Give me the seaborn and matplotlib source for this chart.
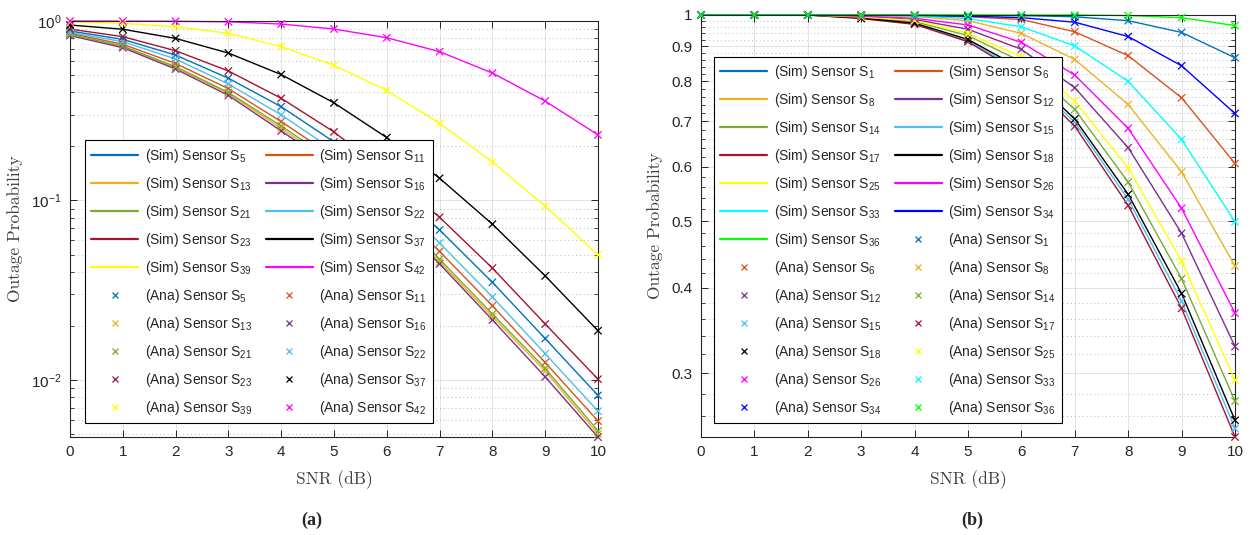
import numpy as np
import pandas as pd
import matplotlib
matplotlib.use("Agg")
import matplotlib.pyplot as plt
import seaborn as sns
from matplotlib.lines import Line2D
from matplotlib.ticker import FixedLocator, FixedFormatter, LogLocator, NullFormatter

# ---------------------------------------------------------------- data
snr_db = [0, 1, 2, 3, 4, 5, 6, 7, 8, 9, 10]

# panel (a): outage probability per sensor
sensors_a = [5, 11, 13, 16, 21, 22, 23, 37, 39, 42]
p_s5 = [0.88, 0.79, 0.646, 0.48, 0.333, 0.212, 0.124, 0.0685, 0.035, 0.017, 0.0082]
p_s11 = [0.854, 0.742, 0.58, 0.42, 0.275, 0.175, 0.10, 0.052, 0.0259, 0.0125, 0.0059]
p_s13 = [0.84, 0.72, 0.55, 0.395, 0.252, 0.16, 0.09, 0.0456, 0.0225, 0.0112, 0.0050]
p_s16 = [0.83, 0.71, 0.54, 0.385, 0.244, 0.155, 0.087, 0.0443, 0.0216, 0.0104, 0.0048]
p_s21 = [0.842, 0.725, 0.557, 0.40, 0.26, 0.165, 0.093, 0.0471, 0.0233, 0.0116, 0.0052]
p_s22 = [0.865, 0.767, 0.614, 0.446, 0.30, 0.19, 0.11, 0.058, 0.029, 0.014, 0.0067]
p_s23 = [0.902, 0.818, 0.683, 0.527, 0.371, 0.241, 0.142, 0.0806, 0.042, 0.0205, 0.0101]
p_s37 = [0.95, 0.90, 0.80, 0.663, 0.503, 0.35, 0.224, 0.133, 0.0738, 0.038, 0.0188]
p_s39 = [0.99, 0.97, 0.93, 0.854, 0.72, 0.566, 0.41, 0.269, 0.164, 0.093, 0.0497]
p_s42 = [1.0, 0.999, 0.997, 0.99, 0.962, 0.902, 0.807, 0.675, 0.513, 0.358, 0.232]
values_a = [p_s5, p_s11, p_s13, p_s16, p_s21, p_s22, p_s23, p_s37, p_s39, p_s42]

# panel (b)
sensors_b = [1, 6, 8, 12, 14, 15, 17, 18, 25, 26, 33, 34, 36]
p_s1 = [1, 1, 1, 1, 1, 0.999, 0.998, 0.994, 0.981, 0.943, 0.866]
p_s6 = [1, 1, 1, 1, 0.998, 0.994, 0.985, 0.945, 0.872, 0.757, 0.607]
p_s8 = [1, 1, 1, 0.998, 0.995, 0.981, 0.94, 0.861, 0.74, 0.59, 0.43]
p_s12 = [1, 1, 1, 0.995, 0.985, 0.953, 0.891, 0.783, 0.64, 0.48, 0.328]
p_s14 = [1, 1, 1, 0.992, 0.978, 0.933, 0.855, 0.728, 0.57, 0.412, 0.273]
p_s15 = [1, 1, 1, 0.989, 0.971, 0.917, 0.827, 0.697, 0.538, 0.382, 0.249]
p_s17 = [1, 1, 1, 0.988, 0.969, 0.914, 0.82, 0.688, 0.527, 0.373, 0.242]
p_s18 = [1, 1, 1, 0.99, 0.973, 0.921, 0.835, 0.705, 0.547, 0.392, 0.256]
p_s25 = [1, 1, 1, 0.993, 0.982, 0.94, 0.869, 0.749, 0.598, 0.437, 0.293]
p_s26 = [1, 1, 1, 0.996, 0.989, 0.967, 0.912, 0.817, 0.683, 0.522, 0.367]
p_s33 = [1, 1, 1, 0.999, 0.997, 0.988, 0.961, 0.901, 0.80, 0.658, 0.499]
p_s34 = [1, 1, 1, 1, 0.999, 0.996, 0.991, 0.976, 0.93, 0.843, 0.718]
p_s36 = [1, 1, 1, 1, 1, 1, 1, 1, 0.998, 0.991, 0.965]
values_b = [p_s1, p_s6, p_s8, p_s12, p_s14, p_s15, p_s17, p_s18,
            p_s25, p_s26, p_s33, p_s34, p_s36]

colors_a = ["#0072BD", "#D95319", "#EDB120", "#7E2F8E", "#77AC30",
            "#4DBEEE", "#A2142F", "#000000", "#FFFF00", "#FF00FF"]
colors_b = ["#0072BD", "#D95319", "#EDB120", "#7E2F8E", "#77AC30",
            "#4DBEEE", "#A2142F", "#000000", "#FFFF00", "#FF00FF",
            "#00FFFF", "#0000FF", "#00FF00"]

right_ticks_b = [0.3, 0.4, 0.5, 0.6, 0.7, 0.8, 0.9, 1.0]
right_tick_labels_b = ["0.3", "0.4", "0.5", "0.6", "0.7", "0.8", "0.9", "1"]

# ---------------------------------------------------------------- style
sns.set_style("ticks")
INK = "#262626"
plt.rcParams.update({
    "font.family": ["Liberation Sans", "DejaVu Sans"],
    "mathtext.fontset": "custom",
    "mathtext.rm": "Liberation Sans",
    "mathtext.it": "Liberation Sans:italic",
    "mathtext.bf": "Liberation Sans:bold",
    "axes.edgecolor": INK,
    "axes.linewidth": 0.8,
    "xtick.color": INK,
    "ytick.color": INK,
    "xtick.labelcolor": INK,
    "ytick.labelcolor": INK,
})

fig = plt.figure(figsize=(12.5, 5.35), dpi=100)
ax_a = fig.add_axes([0.056, 0.1832, 0.4224, 0.7775])
ax_b = fig.add_axes([0.5608, 0.1832, 0.4272, 0.7888])


def long_frame(sensors, values):
    rows = []
    for s, vals in zip(sensors, values):
        for x, v in zip(snr_db, vals):
            rows.append({"snr": x, "p": v, "sensor": f"S{s}"})
    return pd.DataFrame(rows)


def draw_panel(ax, sensors, values, colors):
    df = long_frame(sensors, values)
    order = [f"S{s}" for s in sensors]
    pal = dict(zip(order, colors))
    sns.lineplot(data=df, x="snr", y="p", hue="sensor", hue_order=order,
                 palette=pal, linewidth=1.0, legend=False, ax=ax)
    sns.scatterplot(data=df, x="snr", y="p", hue="sensor", hue_order=order,
                    palette=pal, marker="x", s=28, linewidth=0.9,
                    legend=False, ax=ax, zorder=3)
    for art in ax.lines + ax.collections:
        art.set_clip_on(False)

    sim = [Line2D([], [], color=c, lw=1.6) for c in colors]
    ana = [Line2D([], [], color=c, marker="x", ls="none", ms=5, mew=0.9)
           for c in colors]
    labels = ([f"(Sim) Sensor S$_{{{s}}}$" for s in sensors]
              + [f"(Ana) Sensor S$_{{{s}}}$" for s in sensors])
    handles = sim + ana
    # two columns filled row by row
    h = handles[0::2] + handles[1::2]
    l = labels[0::2] + labels[1::2]
    return h, l


def style_axes(ax):
    ax.set_xlim(0, 10)
    ax.xaxis.set_major_locator(FixedLocator(snr_db))
    ax.tick_params(which="both", direction="in", top=True, right=True,
                   labelsize=11, pad=6)
    ax.tick_params(which="major", length=5, width=0.7)
    ax.tick_params(which="minor", length=3, width=0.6)
    ax.tick_params(axis="x", which="minor", top=False, bottom=False)
    ax.grid(True, which="major", color=INK, alpha=0.15, lw=0.6, ls="-")
    ax.grid(True, which="minor", axis="y", color=INK, alpha=0.3, lw=0.7,
            ls=(0, (1, 3)))
    ax.set_axisbelow(True)
    for sp in ax.spines.values():
        sp.set_visible(True)
        sp.set_color(INK)
    ax.set_xlabel("SNR (dB)", fontfamily="cmr10", fontsize=12.5,
                  color="#404040", labelpad=8)
    ax.set_ylabel("Outage Probability", fontfamily="cmr10", fontsize=12.5,
                  color="#404040", labelpad=6)


legend_kw = dict(ncol=2, loc="lower left", borderaxespad=0, fontsize=10,
                 frameon=True, fancybox=False, edgecolor="#000000",
                 framealpha=1, handlelength=3.4, handletextpad=0.45,
                 columnspacing=1.0, labelspacing=0.72, borderpad=0.45)

# panel (a)
h_a, l_a = draw_panel(ax_a, sensors_a, values_a, colors_a)
ax_a.set_yscale("log")
ax_a.set_ylim(0.00481, 1.0)
ax_a.yaxis.set_major_locator(LogLocator(base=10, numticks=10))
ax_a.yaxis.set_minor_locator(LogLocator(base=10, subs=np.arange(2, 10), numticks=20))
ax_a.yaxis.set_minor_formatter(NullFormatter())
style_axes(ax_a)
leg_a = ax_a.legend(h_a, l_a, bbox_to_anchor=(0.028, 0.034), **legend_kw)
leg_a.get_frame().set_linewidth(0.8)

# panel (b)
h_b, l_b = draw_panel(ax_b, sensors_b, values_b, colors_b)
ax_b.set_yscale("log")
ax_b.set_ylim(0.242, 1.0)
ax_b.yaxis.set_major_locator(FixedLocator(right_ticks_b))
ax_b.yaxis.set_major_formatter(FixedFormatter(right_tick_labels_b))
minor_b = [v / 100 for v in range(24, 100, 2) if v % 10 != 0]
ax_b.yaxis.set_minor_locator(FixedLocator(minor_b))
ax_b.yaxis.set_minor_formatter(NullFormatter())
style_axes(ax_b)
leg_b = ax_b.legend(h_b, l_b, bbox_to_anchor=(0.024, 0.033), **legend_kw)
leg_b.get_frame().set_linewidth(0.8)

fig.text(0.2496, 0.028, "(a)", ha="center", va="center", fontsize=13,
         fontweight="bold", fontfamily="Liberation Serif")
fig.text(0.7776, 0.028, "(b)", ha="center", va="center", fontsize=13,
         fontweight="bold", fontfamily="Liberation Serif")

fig.savefig("out.png", dpi=100)
